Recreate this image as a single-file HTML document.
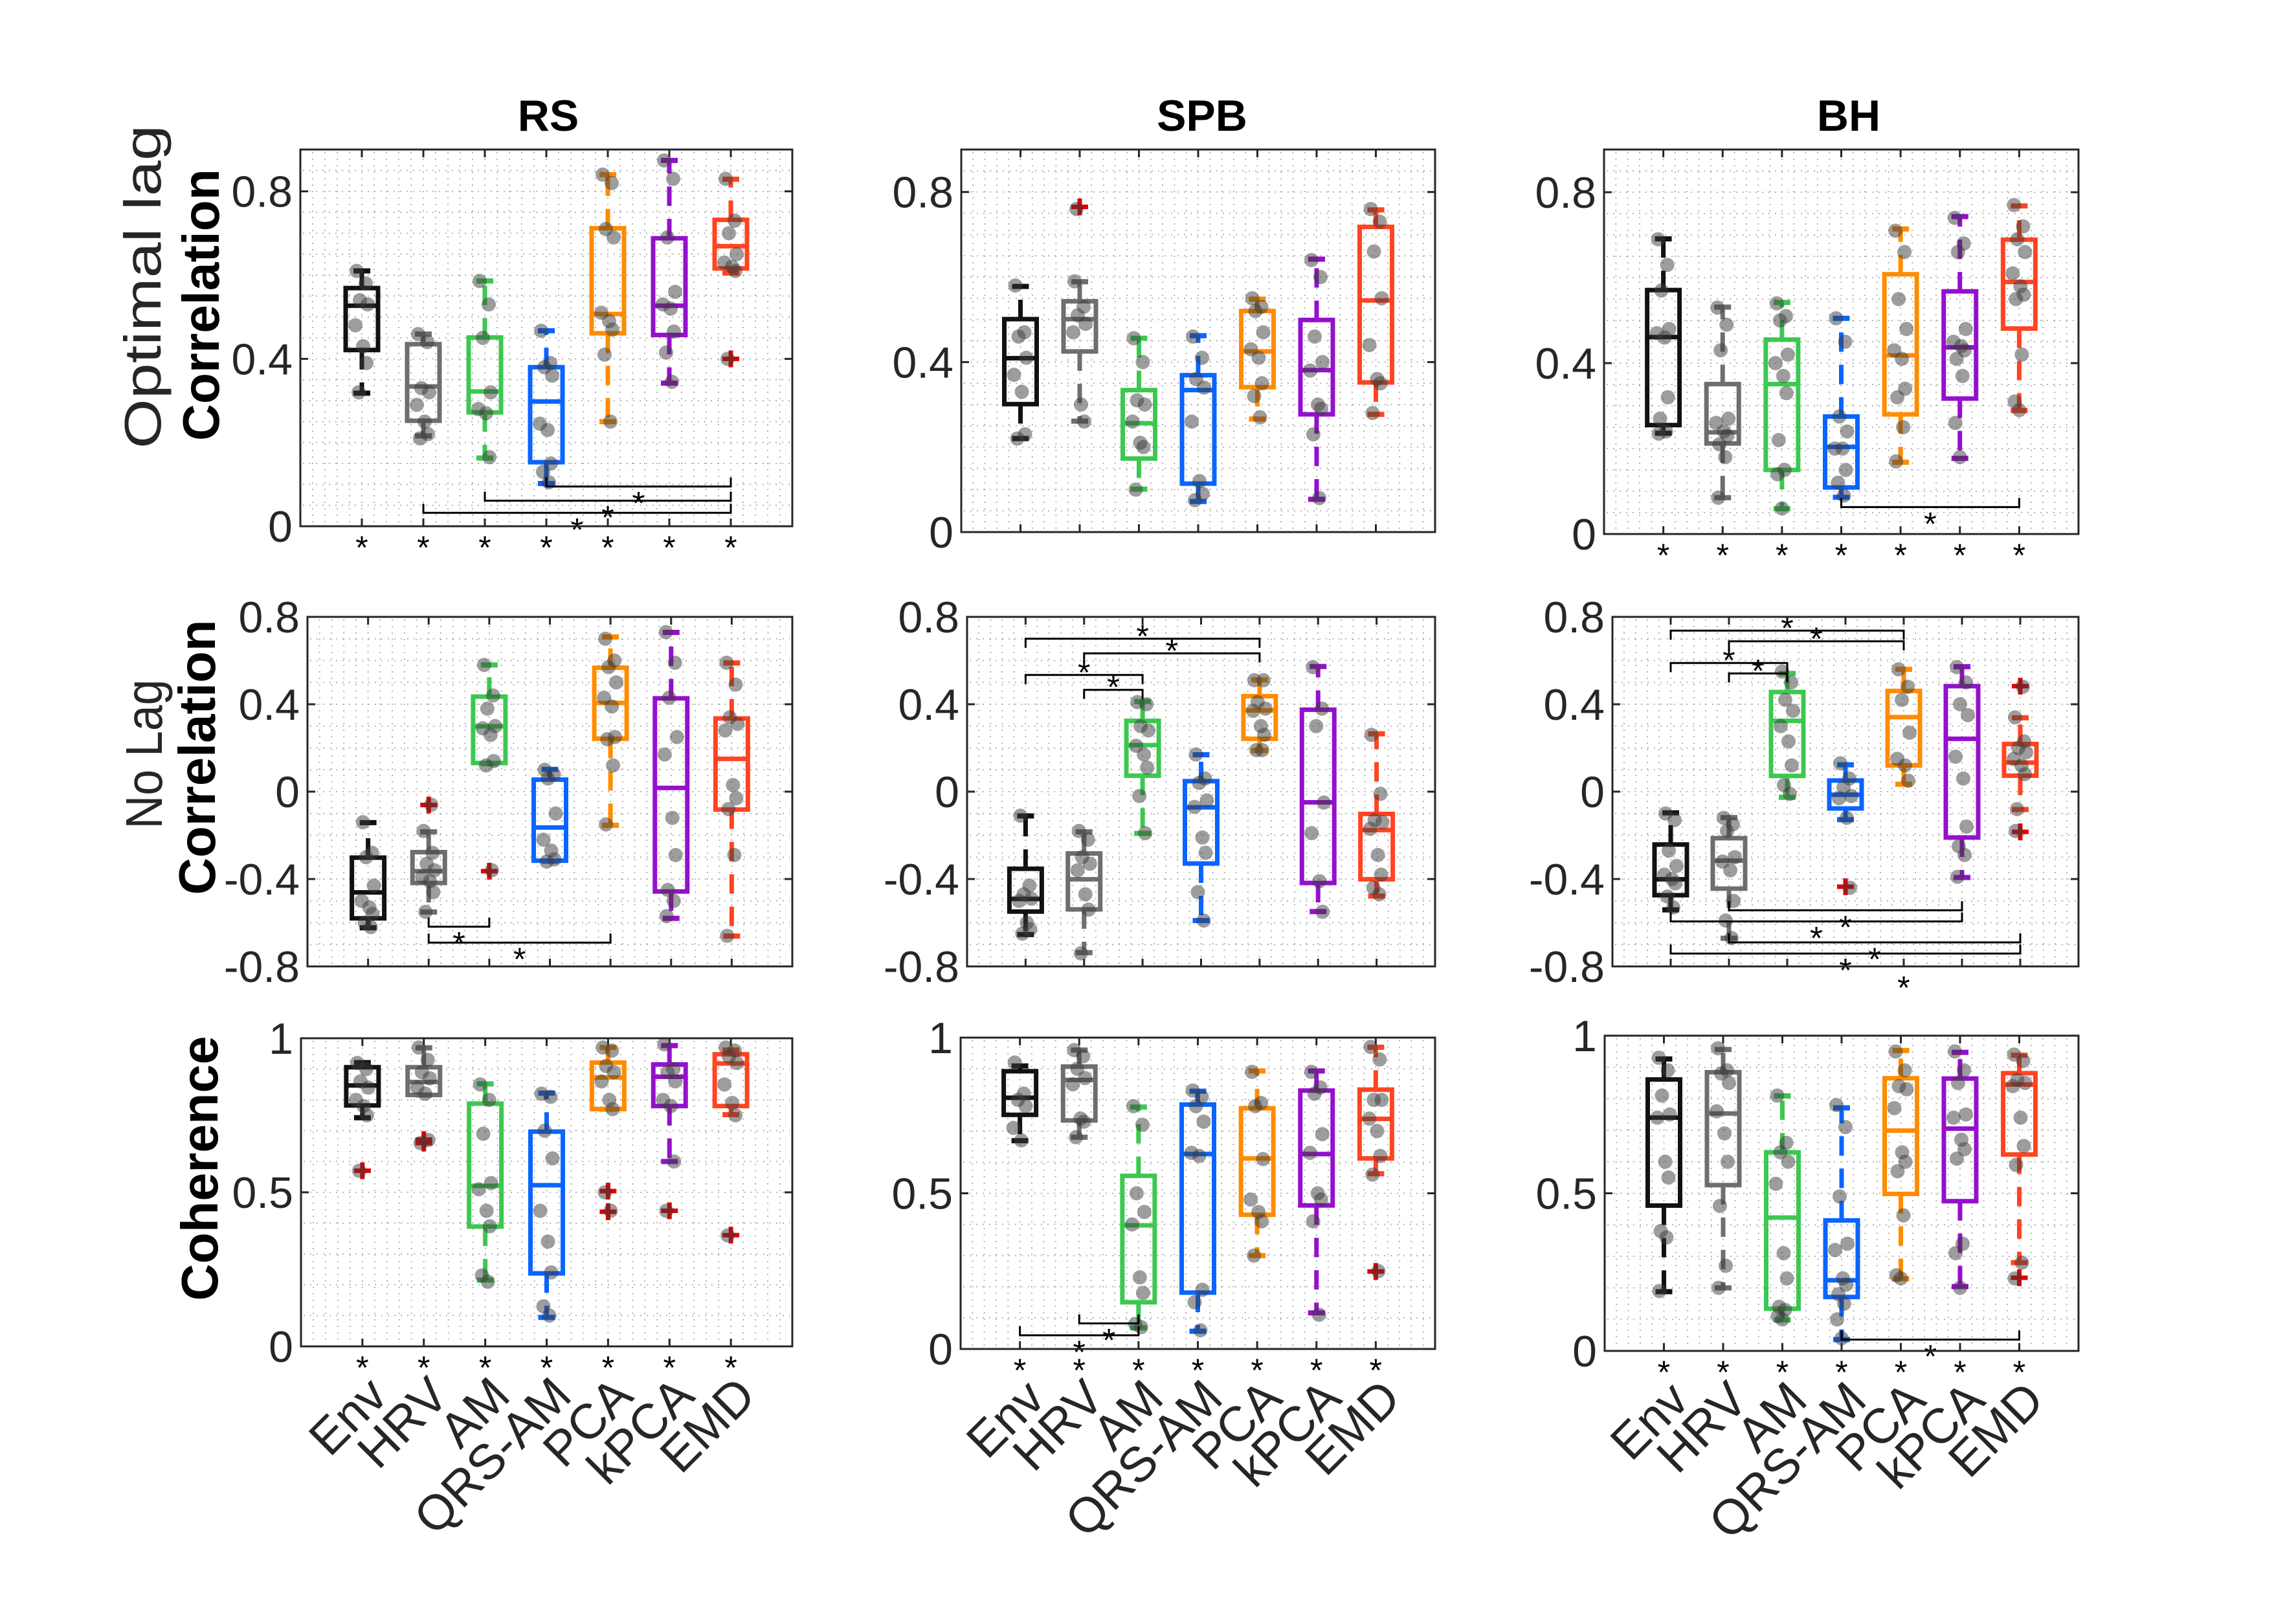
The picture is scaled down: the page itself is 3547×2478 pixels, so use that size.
<!DOCTYPE html>
<html>
<head>
<meta charset="utf-8">
<style>
html,body{margin:0;padding:0;background:#fff;}
svg{display:block;}
text{font-family:"Liberation Sans",Arial,sans-serif;}
</style>
</head>
<body>
<svg id="fig" xmlns="http://www.w3.org/2000/svg" width="3547" height="2478" viewBox="0 0 3547 2478">
<rect x="0" y="0" width="3547" height="2478" fill="#ffffff"/>
<text x="847" y="202" font-size="68" font-weight="bold" text-anchor="middle" fill="#000">RS</text>
<text x="1857" y="202" font-size="68" font-weight="bold" text-anchor="middle" fill="#000">SPB</text>
<text x="2856" y="202" font-size="68" font-weight="bold" text-anchor="middle" fill="#000">BH</text>
<text transform="translate(248,443) rotate(-90)" font-size="80" text-anchor="middle" fill="#262626" textLength="500" lengthAdjust="spacingAndGlyphs">Optimal lag</text>
<text transform="translate(338,471) rotate(-90)" font-size="80" font-weight="bold" text-anchor="middle" fill="#000" textLength="420" lengthAdjust="spacingAndGlyphs">Correlation</text>
<text transform="translate(250,1165) rotate(-90)" font-size="80" text-anchor="middle" fill="#262626" textLength="231" lengthAdjust="spacingAndGlyphs">No Lag</text>
<text transform="translate(332,1170) rotate(-90)" font-size="80" font-weight="bold" text-anchor="middle" fill="#000" textLength="425" lengthAdjust="spacingAndGlyphs">Correlation</text>
<text transform="translate(336,1805) rotate(-90)" font-size="80" font-weight="bold" text-anchor="middle" fill="#000" textLength="409" lengthAdjust="spacingAndGlyphs">Coherence</text>
<g id="plots"></g>
</svg>
<script>
const categories = ["Env","HRV","AM","QRS-AM","PCA","kPCA","EMD"];
const colors = ["#111111","#6e6e6e","#3cc850","#0a64ff","#ff8c00","#9410cc","#ff4422"];

const row1Ticks = [0, 0.4, 0.8];
const row1TickLabels = ["0","0.4","0.8"];
const row2Ticks = [-0.8, -0.4, 0, 0.4, 0.8];
const row2TickLabels = ["-0.8","-0.4","0","0.4","0.8"];
const row3Ticks = [0, 0.5, 1];
const row3TickLabels = ["0","0.5","1"];

/* ---------- RS optimal lag ---------- */
const rs1_lo  = [0.318,0.216,0.163,0.102,0.25,0.342,0.605];
const rs1_q1  = [0.421,0.252,0.272,0.153,0.461,0.457,0.616];
const rs1_med = [0.527,0.334,0.322,0.298,0.507,0.527,0.669];
const rs1_q3  = [0.569,0.435,0.451,0.38,0.712,0.688,0.732];
const rs1_hi  = [0.61,0.459,0.586,0.467,0.84,0.874,0.829];
const rs1_out = [[],[],[],[],[],[],[0.4]];
const rs1_pts = [[0.61,0.58,0.54,0.53,0.48,0.43,0.39,0.32],[0.459,0.44,0.33,0.32,0.29,0.25,0.22,0.21],[0.586,0.53,0.45,0.32,0.28,0.27,0.165],[0.467,0.39,0.38,0.36,0.245,0.23,0.15,0.13,0.105],[0.84,0.82,0.71,0.69,0.51,0.49,0.47,0.41,0.25],[0.874,0.83,0.69,0.56,0.53,0.52,0.465,0.415,0.345],[0.83,0.73,0.7,0.65,0.63,0.62,0.61,0.4]];
const rs1_brA = [4,3,2];
const rs1_brB = [7,7,7];
const rs1_brY = [0.095,0.061,0.032];
const rs1_brDir = [1,1,1];
const rs1_axisStars = [1,2,3,4,5,6,7];

/* ---------- SPB optimal lag ---------- */
const spb1_lo  = [0.22,0.261,0.101,0.072,0.266,0.077,0.277];
const spb1_q1  = [0.301,0.425,0.173,0.114,0.341,0.277,0.352];
const spb1_med = [0.409,0.501,0.256,0.334,0.425,0.381,0.545];
const spb1_q3  = [0.501,0.543,0.334,0.369,0.52,0.499,0.718];
const spb1_hi  = [0.578,0.589,0.456,0.462,0.548,0.642,0.758];
const spb1_out = [[],[0.765],[],[],[],[],[]];
const spb1_pts = [[0.58,0.47,0.46,0.41,0.37,0.33,0.23,0.22],[0.59,0.53,0.51,0.49,0.47,0.3,0.26,0.76],[0.456,0.4,0.31,0.3,0.26,0.21,0.2,0.1],[0.46,0.41,0.36,0.34,0.26,0.12,0.09,0.075],[0.55,0.53,0.52,0.47,0.43,0.41,0.35,0.32,0.27],[0.64,0.6,0.46,0.4,0.38,0.3,0.29,0.23,0.08],[0.76,0.73,0.66,0.55,0.44,0.36,0.35,0.28]];
const spb1_brA = [];
const spb1_brB = [];
const spb1_brY = [];
const spb1_brDir = [];
const spb1_axisStars = [];

/* ---------- BH optimal lag ---------- */
const bh1_lo  = [0.236,0.085,0.059,0.086,0.168,0.177,0.289];
const bh1_q1  = [0.255,0.212,0.15,0.109,0.28,0.317,0.481];
const bh1_med = [0.461,0.238,0.351,0.204,0.418,0.437,0.59];
const bh1_q3  = [0.571,0.351,0.455,0.275,0.608,0.568,0.689];
const bh1_hi  = [0.691,0.531,0.542,0.505,0.714,0.743,0.768];
const bh1_out = [[],[],[],[],[],[],[]];
const bh1_pts = [[0.69,0.63,0.57,0.48,0.47,0.46,0.32,0.27,0.24,0.235],[0.53,0.49,0.43,0.27,0.26,0.24,0.23,0.21,0.18,0.085],[0.54,0.51,0.5,0.42,0.4,0.37,0.33,0.22,0.15,0.14,0.06],[0.505,0.45,0.275,0.24,0.2,0.2,0.15,0.12,0.09],[0.71,0.66,0.55,0.48,0.43,0.41,0.34,0.32,0.25,0.17],[0.74,0.68,0.66,0.48,0.45,0.44,0.43,0.41,0.37,0.26,0.18],[0.77,0.72,0.69,0.66,0.61,0.58,0.56,0.55,0.42,0.31,0.29]];
const bh1_brA = [4];
const bh1_brB = [7];
const bh1_brY = [0.063];
const bh1_brDir = [1];
const bh1_axisStars = [1,2,3,4,5,6,7];

/* ---------- RS no lag ---------- */
const rs2_lo  = [-0.623,-0.551,0.128,-0.318,-0.154,-0.58,-0.661];
const rs2_q1  = [-0.58,-0.418,0.131,-0.316,0.242,-0.457,-0.082];
const rs2_med = [-0.461,-0.364,0.299,-0.164,0.406,0.017,0.15];
const rs2_q3  = [-0.302,-0.277,0.435,0.055,0.567,0.427,0.335];
const rs2_hi  = [-0.142,-0.184,0.58,0.102,0.708,0.729,0.589];
const rs2_out = [[],[-0.061],[-0.364],[],[],[],[]];
const rs2_pts = [[-0.14,-0.28,-0.3,-0.43,-0.5,-0.53,-0.56,-0.6,-0.62],[-0.18,-0.28,-0.33,-0.36,-0.39,-0.41,-0.46,-0.55,-0.06],[0.58,0.44,0.38,0.3,0.29,0.26,0.14,0.12,-0.36],[0.1,0.08,0.06,-0.1,-0.22,-0.27,-0.31,-0.32],[0.7,0.6,0.57,0.5,0.43,0.39,0.25,0.24,0.12,-0.15],[0.73,0.59,0.43,0.25,0.17,-0.12,-0.29,-0.45,-0.5,-0.57],[0.59,0.49,0.34,0.31,0.28,0.03,-0.03,-0.08,-0.29,-0.66]];
const rs2_brA = [2,2];
const rs2_brB = [3,5];
const rs2_brY = [-0.618,-0.691];
const rs2_brDir = [1,1];
const rs2_axisStars = [];

/* ---------- SPB no lag ---------- */
const spb2_lo  = [-0.654,-0.737,-0.191,-0.59,0.188,-0.549,-0.478];
const spb2_q1  = [-0.549,-0.539,0.073,-0.329,0.242,-0.418,-0.401];
const spb2_med = [-0.491,-0.401,0.213,-0.072,0.372,-0.049,-0.176];
const spb2_q3  = [-0.353,-0.283,0.324,0.048,0.437,0.375,-0.102];
const spb2_hi  = [-0.111,-0.184,0.413,0.169,0.512,0.573,0.265];
const spb2_out = [[],[],[],[],[],[],[]];
const spb2_pts = [[-0.11,-0.43,-0.47,-0.49,-0.5,-0.6,-0.63,-0.65],[-0.18,-0.22,-0.3,-0.33,-0.36,-0.47,-0.54,-0.74],[0.41,0.4,0.3,0.28,0.21,0.17,0.11,-0.02,-0.19],[0.17,0.06,0.04,-0.04,-0.07,-0.21,-0.28,-0.46,-0.59],[0.51,0.51,0.41,0.38,0.37,0.3,0.26,0.19,0.19],[0.57,0.38,0.3,-0.05,-0.19,-0.41,-0.55],[0.26,-0.01,-0.13,-0.14,-0.17,-0.29,-0.38,-0.44,-0.47]];
const spb2_brA = [1,2,1,2];
const spb2_brB = [5,5,3,3];
const spb2_brY = [0.7,0.633,0.534,0.466];
const spb2_brDir = [-1,-1,-1,-1];
const spb2_axisStars = [];

/* ---------- BH no lag ---------- */
const bh2_lo  = [-0.541,-0.671,-0.026,-0.128,0.034,-0.393,-0.082];
const bh2_q1  = [-0.474,-0.444,0.072,-0.077,0.12,-0.21,0.073];
const bh2_med = [-0.401,-0.316,0.324,-0.014,0.341,0.242,0.133];
const bh2_q3  = [-0.242,-0.213,0.456,0.051,0.461,0.483,0.218];
const bh2_hi  = [-0.097,-0.119,0.541,0.123,0.56,0.572,0.338];
const bh2_out = [[],[],[],[-0.435],[],[],[0.483,-0.184]];
const bh2_pts = [[-0.1,-0.13,-0.27,-0.34,-0.38,-0.4,-0.42,-0.48,-0.53],[-0.12,-0.15,-0.18,-0.3,-0.32,-0.36,-0.5,-0.59,-0.67],[0.55,0.5,0.42,0.37,0.3,0.23,0.12,0.03,-0.01],[0.13,0.06,0.02,-0.02,-0.03,-0.12,-0.44],[0.56,0.48,0.42,0.27,0.15,0.12,0.05],[0.57,0.5,0.4,0.35,0.16,0.06,-0.16,-0.25,-0.29,-0.39],[0.34,0.23,0.2,0.18,0.15,0.12,0.08,-0.08,0.48,-0.18]];
const bh2_brA = [1,2,1,2,2,1,2,1];
const bh2_brB = [5,5,3,3,6,6,7,7];
const bh2_brY = [0.737,0.688,0.589,0.541,-0.543,-0.594,-0.69,-0.741];
const bh2_brDir = [-1,-1,-1,-1,1,1,1,1];
const bh2_axisStars = [5];

/* ---------- RS coherence ---------- */
const rs3_lo  = [0.742,0.816,0.215,0.094,0.77,0.6,0.752];
const rs3_q1  = [0.782,0.816,0.389,0.237,0.77,0.78,0.78];
const rs3_med = [0.847,0.858,0.521,0.523,0.873,0.875,0.918];
const rs3_q3  = [0.906,0.906,0.788,0.697,0.921,0.915,0.948];
const rs3_hi  = [0.921,0.969,0.852,0.822,0.97,0.976,0.962];
const rs3_out = [[0.57],[0.671,0.66],[],[],[0.504,0.437],[0.44],[0.361]];
const rs3_pts = [[0.92,0.9,0.86,0.84,0.8,0.78,0.75,0.57],[0.97,0.93,0.89,0.87,0.84,0.82,0.67,0.66],[0.85,0.8,0.69,0.53,0.51,0.44,0.39,0.23,0.21],[0.82,0.81,0.7,0.61,0.44,0.34,0.24,0.13,0.1],[0.97,0.96,0.91,0.89,0.86,0.8,0.77,0.5,0.44],[0.98,0.9,0.89,0.86,0.8,0.78,0.6,0.44],[0.97,0.96,0.94,0.92,0.85,0.79,0.75,0.36]];
const rs3_brA = [];
const rs3_brB = [];
const rs3_brY = [];
const rs3_brDir = [];
const rs3_axisStars = [1,2,3,4,5,6,7];

/* ---------- SPB coherence ---------- */
const spb3_lo  = [0.669,0.68,0.068,0.057,0.3,0.116,0.563];
const spb3_q1  = [0.752,0.734,0.15,0.181,0.431,0.461,0.612];
const spb3_med = [0.807,0.864,0.397,0.626,0.612,0.626,0.739];
const spb3_q3  = [0.892,0.907,0.556,0.785,0.773,0.83,0.833];
const spb3_hi  = [0.909,0.96,0.777,0.828,0.893,0.893,0.969];
const spb3_out = [[],[],[],[],[],[],[0.249]];
const spb3_pts = [[0.92,0.82,0.8,0.78,0.71,0.67],[0.96,0.94,0.9,0.87,0.85,0.74,0.73,0.68],[0.78,0.72,0.5,0.44,0.4,0.23,0.18,0.08,0.07],[0.83,0.81,0.78,0.73,0.63,0.62,0.19,0.15,0.06],[0.89,0.79,0.78,0.61,0.48,0.44,0.41,0.3],[0.89,0.84,0.82,0.69,0.63,0.5,0.48,0.41,0.11],[0.97,0.93,0.8,0.8,0.74,0.7,0.62,0.56,0.25]];
const spb3_brA = [2,1];
const spb3_brB = [3,3];
const spb3_brY = [0.082,0.044];
const spb3_brDir = [1,1];
const spb3_axisStars = [1,2,3,4,5,6,7];

/* ---------- BH coherence ---------- */
const bh3_lo  = [0.188,0.2,0.098,0.036,0.229,0.204,0.28];
const bh3_q1  = [0.461,0.526,0.134,0.171,0.498,0.475,0.623];
const bh3_med = [0.74,0.753,0.423,0.224,0.699,0.705,0.845];
const bh3_q3  = [0.861,0.884,0.63,0.414,0.865,0.864,0.881];
const bh3_hi  = [0.926,0.956,0.809,0.771,0.953,0.947,0.938];
const bh3_out = [[],[],[],[],[],[],[0.232]];
const bh3_pts = [[0.93,0.89,0.81,0.75,0.74,0.6,0.55,0.38,0.36,0.19],[0.96,0.89,0.88,0.85,0.76,0.69,0.6,0.46,0.27,0.2],[0.81,0.66,0.63,0.6,0.53,0.31,0.23,0.14,0.13,0.11,0.1],[0.78,0.71,0.49,0.34,0.32,0.23,0.21,0.18,0.15,0.1,0.04],[0.95,0.89,0.84,0.83,0.77,0.63,0.6,0.57,0.43,0.24,0.23],[0.95,0.89,0.85,0.75,0.74,0.67,0.64,0.61,0.34,0.31,0.2],[0.94,0.92,0.86,0.85,0.84,0.74,0.65,0.59,0.28,0.23]];
const bh3_brA = [4];
const bh3_brB = [7];
const bh3_brY = [0.036];
const bh3_brDir = [1];
const bh3_axisStars = [1,2,3,4,5,6,7];

const NS = "http://www.w3.org/2000/svg";
const root = document.getElementById("plots");

function mk(tag, attrs, parent) {
  const el = document.createElementNS(NS, tag);
  for (const k in attrs) el.setAttribute(k, attrs[k]);
  (parent || root).appendChild(el);
  return el;
}

const panels = [
  {key:"rs1", l:464, r:1224, t:231, b:813, ymin:0, ymax:0.9, minor:0.05, ticks:row1Ticks, labels:row1TickLabels, xlabels:false,
   d:{lo:rs1_lo,q1:rs1_q1,med:rs1_med,q3:rs1_q3,hi:rs1_hi,out:rs1_out,pts:rs1_pts,brA:rs1_brA,brB:rs1_brB,brY:rs1_brY,brDir:rs1_brDir,stars:rs1_axisStars}},
  {key:"spb1", l:1485, r:2217, t:231, b:822, ymin:0, ymax:0.9, minor:0.05, ticks:row1Ticks, labels:row1TickLabels, xlabels:false,
   d:{lo:spb1_lo,q1:spb1_q1,med:spb1_med,q3:spb1_q3,hi:spb1_hi,out:spb1_out,pts:spb1_pts,brA:spb1_brA,brB:spb1_brB,brY:spb1_brY,brDir:spb1_brDir,stars:spb1_axisStars}},
  {key:"bh1", l:2478, r:3211, t:231, b:825, ymin:0, ymax:0.9, minor:0.05, ticks:row1Ticks, labels:row1TickLabels, xlabels:false,
   d:{lo:bh1_lo,q1:bh1_q1,med:bh1_med,q3:bh1_q3,hi:bh1_hi,out:bh1_out,pts:bh1_pts,brA:bh1_brA,brB:bh1_brB,brY:bh1_brY,brDir:bh1_brDir,stars:bh1_axisStars}},
  {key:"rs2", l:475, r:1224, t:953, b:1493, ymin:-0.8, ymax:0.8, minor:0.1, ticks:row2Ticks, labels:row2TickLabels, xlabels:false,
   d:{lo:rs2_lo,q1:rs2_q1,med:rs2_med,q3:rs2_q3,hi:rs2_hi,out:rs2_out,pts:rs2_pts,brA:rs2_brA,brB:rs2_brB,brY:rs2_brY,brDir:rs2_brDir,stars:rs2_axisStars}},
  {key:"spb2", l:1494, r:2217, t:953, b:1493, ymin:-0.8, ymax:0.8, minor:0.1, ticks:row2Ticks, labels:row2TickLabels, xlabels:false,
   d:{lo:spb2_lo,q1:spb2_q1,med:spb2_med,q3:spb2_q3,hi:spb2_hi,out:spb2_out,pts:spb2_pts,brA:spb2_brA,brB:spb2_brB,brY:spb2_brY,brDir:spb2_brDir,stars:spb2_axisStars}},
  {key:"bh2", l:2491, r:3211, t:953, b:1493, ymin:-0.8, ymax:0.8, minor:0.1, ticks:row2Ticks, labels:row2TickLabels, xlabels:false,
   d:{lo:bh2_lo,q1:bh2_q1,med:bh2_med,q3:bh2_q3,hi:bh2_hi,out:bh2_out,pts:bh2_pts,brA:bh2_brA,brB:bh2_brB,brY:bh2_brY,brDir:bh2_brDir,stars:bh2_axisStars}},
  {key:"rs3", l:465, r:1224, t:1604, b:2080, ymin:0, ymax:1, minor:0.1, ticks:row3Ticks, labels:row3TickLabels, xlabels:true,
   d:{lo:rs3_lo,q1:rs3_q1,med:rs3_med,q3:rs3_q3,hi:rs3_hi,out:rs3_out,pts:rs3_pts,brA:rs3_brA,brB:rs3_brB,brY:rs3_brY,brDir:rs3_brDir,stars:rs3_axisStars}},
  {key:"spb3", l:1484, r:2217, t:1603, b:2084, ymin:0, ymax:1, minor:0.1, ticks:row3Ticks, labels:row3TickLabels, xlabels:true,
   d:{lo:spb3_lo,q1:spb3_q1,med:spb3_med,q3:spb3_q3,hi:spb3_hi,out:spb3_out,pts:spb3_pts,brA:spb3_brA,brB:spb3_brB,brY:spb3_brY,brDir:spb3_brDir,stars:spb3_axisStars}},
  {key:"bh3", l:2479, r:3211, t:1600, b:2087, ymin:0, ymax:1, minor:0.1, ticks:row3Ticks, labels:row3TickLabels, xlabels:true,
   d:{lo:bh3_lo,q1:bh3_q1,med:bh3_med,q3:bh3_q3,hi:bh3_hi,out:bh3_out,pts:bh3_pts,brA:bh3_brA,brB:bh3_brB,brY:bh3_brY,brDir:bh3_brDir,stars:bh3_axisStars}}
];

const jitter = [-8,6,-3,9,-10,2,7,-5,4,-7,0,5];

function star(g, x, cy, name) {
  const s = mk("text", {x:x, y:cy+28, "font-size":50, "text-anchor":"middle", fill:"#000"}, g);
  s.textContent = "*";
  
  
}

panels.forEach(p => {
  const yS = v => p.b - (v - p.ymin) / (p.ymax - p.ymin) * (p.b - p.t);
  const xS = i => p.l + (i + 1) * (p.r - p.l) / 8;
  const g = mk("g", {});
  
  

  let gd = "";
  const w = p.r - p.l;
  for (let k = 1; k < 40; k++) { const x = p.l + k * w / 40; gd += "M" + x + "," + (p.t + 4) + "V" + (p.b - 4); }
  const nH = Math.round((p.ymax - p.ymin) / p.minor);
  for (let k = 1; k < nH; k++) { const y = yS(p.ymin + k * p.minor); gd += "M" + (p.l + 4) + "," + y + "H" + (p.r - 4); }
  const grid = mk("path", {d:gd, stroke:"#b4b4b4", "stroke-width":2, "stroke-dasharray":"2,8", fill:"none"}, g);
  
  

  p.ticks.forEach((v, k) => {
    const y = yS(v);
    const tk = mk("path", {d:"M"+p.l+","+y+"h12M"+p.r+","+y+"h-12", stroke:"#262626", "stroke-width":3}, g);
    
    
    const lb = mk("text", {x:p.l - 12, y:y + 24, "font-size":68, "text-anchor":"end", fill:"#262626"}, g);
    lb.textContent = p.labels[k];
    
    
  });
  categories.forEach((c, i) => {
    const x = xS(i);
    const tk = mk("path", {d:"M"+x+","+p.b+"v-12M"+x+","+p.t+"v12", stroke:"#262626", "stroke-width":3}, g);
    
    
    if (p.xlabels) {
      const lb = mk("text", {transform:"translate("+(x+42)+","+(p.b+80)+") rotate(-45)", "font-size":76, "text-anchor":"end", fill:"#262626"}, g);
      lb.textContent = c;
      
      
    }
  });

  const D = p.d;
  categories.forEach((c, i) => {
    const x = xS(i), col = colors[i];
    const bg = mk("g", {}, g);
    
    
    const wh = mk("path", {d:"M"+x+","+yS(D.q3[i])+"V"+yS(D.hi[i])+"M"+x+","+yS(D.q1[i])+"V"+yS(D.lo[i]), stroke:col, "stroke-width":7, "stroke-dasharray":"30,20", fill:"none"}, bg);
    
    
    const cp = mk("path", {d:"M"+(x-13)+","+yS(D.hi[i])+"h26M"+(x-13)+","+yS(D.lo[i])+"h26", stroke:col, "stroke-width":8}, bg);
    
    
    const bx = mk("rect", {x:x-25, y:yS(D.q3[i]), width:50, height:Math.max(1, yS(D.q1[i]) - yS(D.q3[i])), fill:"none", stroke:col, "stroke-width":7}, bg);
    
    
    const md = mk("line", {x1:x-25, x2:x+25, y1:yS(D.med[i]), y2:yS(D.med[i]), stroke:col, "stroke-width":7}, bg);
    
    
    D.out[i].forEach(v => {
      const y = yS(v);
      const o = mk("path", {d:"M"+(x-13)+","+y+"h26M"+x+","+(y-13)+"v26", stroke:"#e00000", "stroke-width":7}, bg);
      
      
    });
    D.pts[i].forEach((v, k) => {
      const pt = mk("circle", {cx:x + jitter[k % jitter.length], cy:yS(v), r:11, fill:"rgba(60,60,60,0.5)"}, bg);
      
      
    });
  });

  D.brA.forEach((a, k) => {
    const x1 = xS(a - 1), x2 = xS(D.brB[k] - 1), y = yS(D.brY[k]), dir = D.brDir[k];
    const tl = 14 * dir;
    const br = mk("path", {d:"M"+x1+","+(y-tl)+"V"+y+"H"+x2+"V"+(y-tl), stroke:"#000", "stroke-width":3, fill:"none"}, g);
    
    
    star(g, (x1 + x2) / 2, y + dir * 15, 'significance-star');
  });
  D.stars.forEach(ci => {
    star(g, xS(ci - 1), p.b + 22, 'category-significance-star');
  });

  const fr = mk("rect", {x:p.l, y:p.t, width:p.r - p.l, height:p.b - p.t, fill:"none", stroke:"#262626", "stroke-width":3}, g);
  
  
});
</script>
</body>
</html>
